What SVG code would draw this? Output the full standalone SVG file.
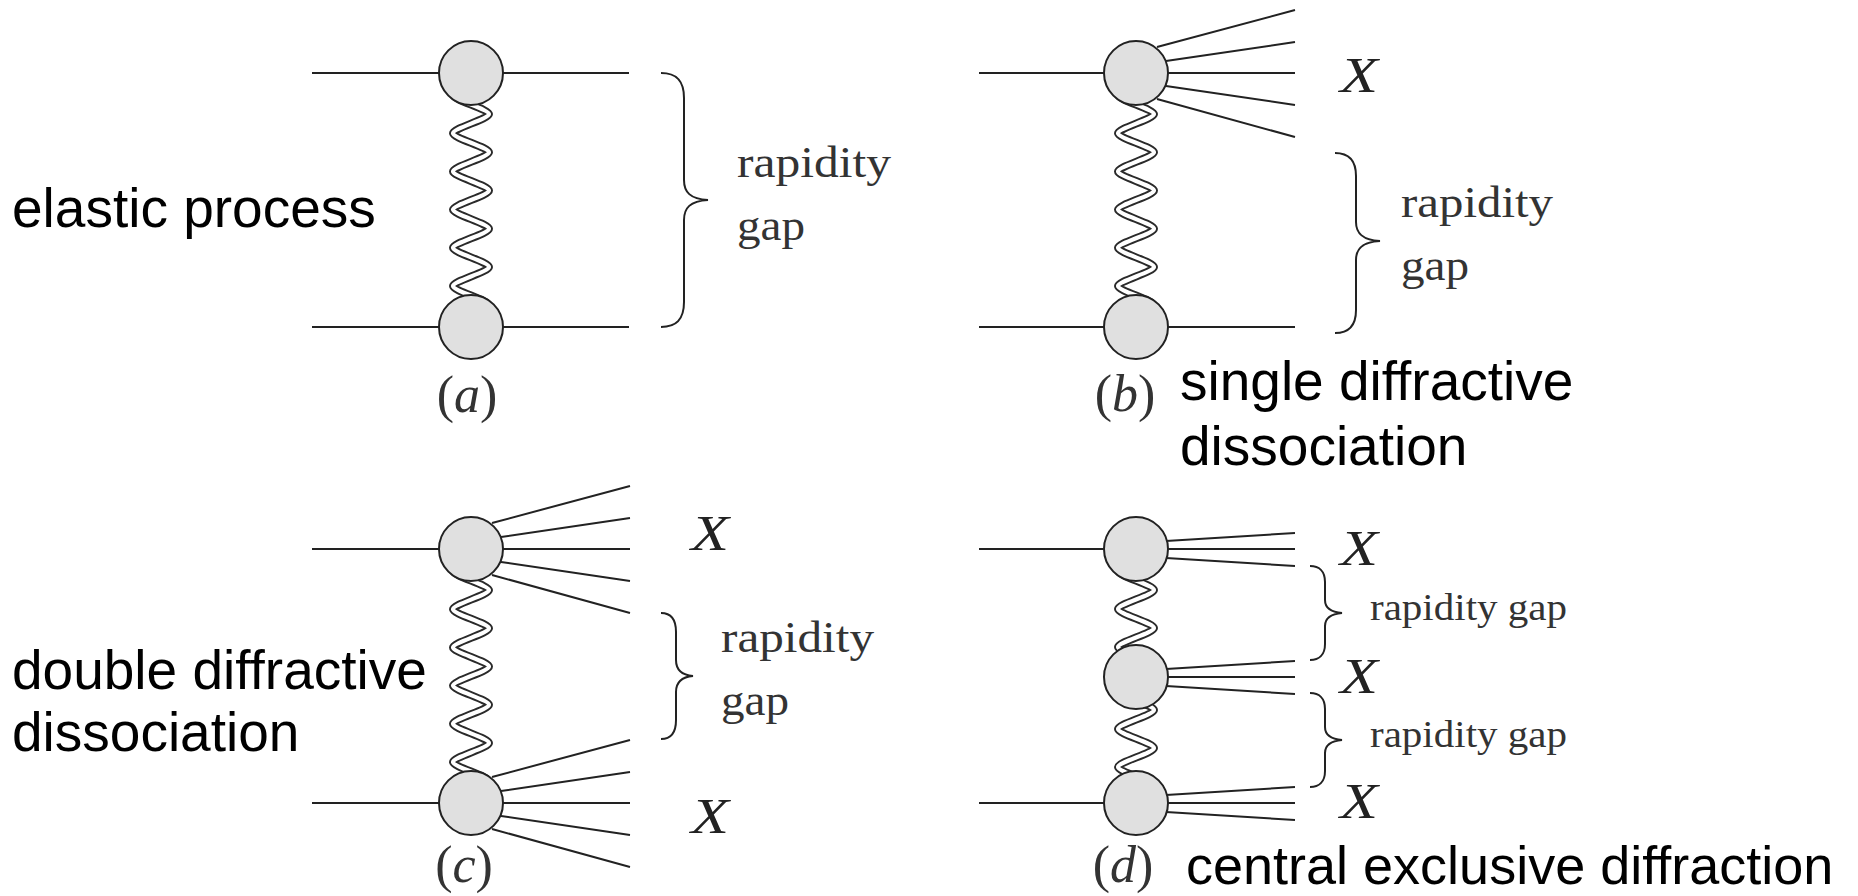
<svg xmlns="http://www.w3.org/2000/svg" xmlns:xlink="http://www.w3.org/1999/xlink" width="1858" height="896" viewBox="0 0 1858 896">
<style>
.ln{stroke:#222;stroke-width:2;fill:none}
.blob{fill:#e0e0e0;stroke:#222;stroke-width:2}
.br{stroke:#222;stroke-width:2;fill:none}
.wo{stroke:#2a2a2a;stroke-width:8;fill:none}
.wi{stroke:#fff;stroke-width:4.2;fill:none}
.sans{font-family:"Liberation Sans",Arial,sans-serif;font-size:55px;fill:#000}
.tex{font-family:"Liberation Serif","Times New Roman",serif;font-size:45px;fill:#333}
.texs{font-family:"Liberation Serif","Times New Roman",serif;font-size:37px;fill:#333}
.X{font-family:"Liberation Serif","Times New Roman",serif;font-size:50px;font-style:italic;fill:#222}
.lab{font-family:"Liberation Serif","Times New Roman",serif;font-size:52px;fill:#333;text-anchor:middle}
</style>
<defs>
<path id="wigL" d="M-18,22 C-18,26.78 18,36.32 18,41.1 C18,45.88 -18,55.42 -18,60.2 C-18,64.98 18,74.52 18,79.3 C18,84.08 -18,93.62 -18,98.4 C-18,103.18 18,112.72 18,117.5 C18,122.28 -18,131.82 -18,136.6 C-18,141.38 18,150.92 18,155.7 C18,160.48 -18,170.02 -18,174.8 C-18,179.58 18,189.12 18,193.9 C18,198.68 -18,208.22 -18,213 C-18,217.78 18,227.32 18,232.1"/>
<path id="wigS" d="M-18,22 C-18,26.75 18,36.25 18,41 C18,45.75 -18,55.25 -18,60 C-18,64.75 18,74.25 18,79 C18,83.75 -18,93.25 -18,98 C-18,102.75 18,112.25 18,117"/>
<g id="wigLong"><use href="#wigL" class="wo"/><use href="#wigL" class="wi"/></g>
<g id="wigShort"><use href="#wigS" class="wo"/><use href="#wigS" class="wi"/></g>
<path id="fan5" class="ln" d="M21,-26 L159,-63 M30,-12 L159,-31 M30,0 L159,0 M30,13 L159,32 M21,26 L159,64"/>
<path id="fan3" class="ln" d="M30,-8 L159,-16 M30,0 L159,0 M30,9 L159,17"/>
</defs>

<g id="connectors">
  <path class="ln" d="M312,73 L629,73 M312,327 L629,327"/>
  <use href="#wigLong" transform="translate(471,73)"/>
  <path class="ln" d="M979,73 L1136,73 M979,327 L1295,327"/>
  <use href="#fan5" transform="translate(1136,73)"/>
  <use href="#wigLong" transform="translate(1136,73)"/>
  <path class="ln" d="M312,549 L471,549 M312,803 L471,803"/>
  <use href="#fan5" transform="translate(471,549)"/>
  <use href="#fan5" transform="translate(471,803)"/>
  <use href="#wigLong" transform="translate(471,549)"/>
  <path class="ln" d="M979,549 L1136,549 M979,803 L1136,803"/>
  <use href="#fan3" transform="translate(1136,549)"/>
  <use href="#fan3" transform="translate(1136,677)"/>
  <use href="#fan3" transform="translate(1136,803)"/>
  <use href="#wigShort" transform="translate(1136,549)"/>
  <use href="#wigShort" transform="translate(1136,669)"/>
</g>

<g id="node-a-top"><circle class="blob" cx="471" cy="73" r="32"/></g>
<g id="node-a-bottom"><circle class="blob" cx="471" cy="327" r="32"/></g>
<g id="node-b-top"><circle class="blob" cx="1136" cy="73" r="32"/></g>
<g id="node-b-bottom"><circle class="blob" cx="1136" cy="327" r="32"/></g>
<g id="node-c-top"><circle class="blob" cx="471" cy="549" r="32"/></g>
<g id="node-c-bottom"><circle class="blob" cx="471" cy="803" r="32"/></g>
<g id="node-d-top"><circle class="blob" cx="1136" cy="549" r="32"/></g>
<g id="node-d-middle"><circle class="blob" cx="1136" cy="677" r="32"/></g>
<g id="node-d-bottom"><circle class="blob" cx="1136" cy="803" r="32"/></g>

<g id="braces">
  <path class="br" d="M661,73 C676,73 684,80 684,98 L684,180 C684,192 690,199 708,200 C690,201 684,208 684,220 L684,302 C684,320 676,327 661,327"/>
  <path class="br" d="M1335,153 C1349,153 1356,160 1356,176 L1356,222 C1356,233 1362,240 1380,241 C1362,242 1356,249 1356,260 L1356,310 C1356,326 1349,333 1335,333"/>
  <path class="br" d="M661,613 C671,613 676,619 676,632 L676,660 C676,669 681,675 693,676 C681,677 676,683 676,692 L676,720 C676,733 671,739 661,739"/>
  <path class="br" d="M1310,566 C1319,566 1325,571 1325,582 L1325,600 C1325,607 1330,612 1342,613 C1330,614 1325,619 1325,626 L1325,644 C1325,655 1319,660 1310,660"/>
  <path class="br" d="M1310,693 C1319,693 1325,698 1325,709 L1325,727 C1325,734 1330,739 1342,740 C1330,741 1325,746 1325,753 L1325,771 C1325,782 1319,787 1310,787"/>
</g>

<g id="labels-a">
  <text class="sans" x="12" y="227">elastic process</text>
  <text class="tex" x="737" y="177" textLength="154" lengthAdjust="spacingAndGlyphs">rapidity</text>
  <text class="tex" x="737" y="240" textLength="68" lengthAdjust="spacingAndGlyphs">gap</text>
  <text class="lab" x="467" y="412">(<tspan font-style="italic">a</tspan>)</text>
</g>
<g id="labels-b">
  <text class="X" x="1340" y="92" textLength="38" lengthAdjust="spacingAndGlyphs">X</text>
  <text class="tex" x="1401" y="217" textLength="152" lengthAdjust="spacingAndGlyphs">rapidity</text>
  <text class="tex" x="1401" y="280" textLength="68" lengthAdjust="spacingAndGlyphs">gap</text>
  <text class="lab" x="1125" y="411">(<tspan font-style="italic">b</tspan>)</text>
  <text class="sans" x="1180" y="400">single diffractive</text>
  <text class="sans" x="1180" y="465">dissociation</text>
</g>
<g id="labels-c">
  <text class="X" x="691" y="550" textLength="38" lengthAdjust="spacingAndGlyphs">X</text>
  <text class="X" x="691" y="833" textLength="38" lengthAdjust="spacingAndGlyphs">X</text>
  <text class="tex" x="721" y="652" textLength="153" lengthAdjust="spacingAndGlyphs">rapidity</text>
  <text class="tex" x="721" y="715" textLength="68" lengthAdjust="spacingAndGlyphs">gap</text>
  <text class="lab" x="464" y="882">(<tspan font-style="italic">c</tspan>)</text>
  <text class="sans" x="12" y="689">double diffractive</text>
  <text class="sans" x="12" y="751">dissociation</text>
</g>
<g id="labels-d">
  <text class="X" x="1340" y="565" textLength="38" lengthAdjust="spacingAndGlyphs">X</text>
  <text class="X" x="1340" y="693" textLength="38" lengthAdjust="spacingAndGlyphs">X</text>
  <text class="X" x="1340" y="818" textLength="38" lengthAdjust="spacingAndGlyphs">X</text>
  <text class="texs" x="1370" y="620" textLength="197" lengthAdjust="spacingAndGlyphs">rapidity gap</text>
  <text class="texs" x="1370" y="747" textLength="197" lengthAdjust="spacingAndGlyphs">rapidity gap</text>
  <text class="lab" x="1123" y="882">(<tspan font-style="italic">d</tspan>)</text>
  <text class="sans" x="1186" y="884" style="font-size:54px">central exclusive diffraction</text>
</g>
</svg>
